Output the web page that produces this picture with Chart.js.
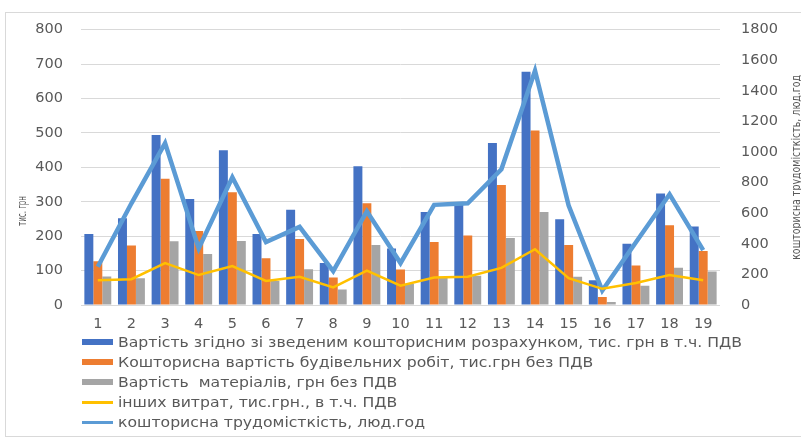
<!DOCTYPE html>
<html>
<head>
<meta charset="utf-8">
<script src="https://cdn.jsdelivr.net/npm/chart.js@4/dist/chart.umd.min.js"></script>
<style>
  html, body { margin: 0; padding: 0; background: #fff; }
  #wrap { position: relative; width: 801px; height: 439px; overflow: hidden; }
  #frame { position: absolute; left: 5px; top: 12px; width: 800px; height: 425px;
           border: 1px solid #d9d9d9; box-sizing: border-box; }
  canvas { position: absolute; left: 0; top: 0; }
  #legend { position: absolute; left: 82px; top: 332px; font: 14px "DejaVu Sans", sans-serif; color: #595959; }
  .row { height: 20px; display: flex; align-items: center; white-space: pre; }
  .mk { width: 31px; margin-right: 5px; flex: none; }
  .txt { display: inline-block; transform: scaleX(1.12); transform-origin: 0 50%; }
</style>
</head>
<body>
<div id="wrap">
  <div id="frame"></div>
  <canvas id="c" width="801" height="439"></canvas>
  <div id="legend"></div>
</div>
<script>
// Object numbers along the x axis
const categories = ['1','2','3','4','5','6','7','8','9','10','11','12','13','14','15','16','17','18','19'];

// Left axis series, thousand UAH
const costTotal     = [206, 252, 494, 308, 450, 206, 277, 122, 403, 164, 270, 296, 471, 678, 249, 72, 178, 324, 228];
const costWorks     = [127, 173, 367, 215, 328, 136, 192, 80, 296, 103, 183, 202, 349, 507, 174, 23, 115, 232, 157];
const costMaterials = [83, 78, 185, 148, 186, 70, 104, 45, 174, 62, 80, 85, 195, 270, 82, 9, 56, 108, 97];
const otherCosts    = [72, 75, 122, 87, 113, 70, 82, 51, 100, 56, 80, 82, 108, 162, 78, 47, 64, 87, 72];

// Right axis series, man-hours
const laborHours    = [250, 665, 1058, 370, 835, 412, 511, 222, 613, 274, 655, 665, 887, 1532, 650, 95, 410, 724, 359];

const seriesNames = [
  'Вартість згідно зі зведеним кошторисним розрахунком, тис. грн в т.ч. ПДВ',
  'Кошторисна вартість будівельних робіт, тис.грн без ПДВ',
  'Вартість  матеріалів, грн без ПДВ',
  'інших витрат, тис.грн., в т.ч. ПДВ',
  'кошторисна трудомісткість, люд.год'
];
const leftAxisTitle = 'тис. грн';
const rightAxisTitle = 'кошторисна трудомісткість, люд.год';

const TEXT = '#595959';
const tickFont = { family: 'DejaVu Sans', size: 14.5 };

// Rotated axis titles, squeezed to the length they occupy beside the axes
function drawVerticalText(ctx, text, x, y, length, font) {
  ctx.save();
  ctx.translate(x, y);
  ctx.rotate(-Math.PI / 2);
  ctx.font = font;
  const w = ctx.measureText(text).width;
  ctx.scale(length / w, 1);
  ctx.textAlign = 'center';
  ctx.textBaseline = 'middle';
  ctx.fillStyle = TEXT;
  ctx.fillText(text, 0, 0);
  ctx.restore();
}
const axisTitles = {
  id: 'axisTitles',
  afterDraw(chart) {
    const ctx = chart.ctx;
    const area = chart.chartArea;
    drawVerticalText(ctx, leftAxisTitle, 23, 211, 30, '12px "DejaVu Sans"');
    drawVerticalText(ctx, rightAxisTitle, 797, (area.top + area.bottom) / 2, 185, '12px "DejaVu Sans"');
  }
};

const plainNumber = v => String(v);

const chart = new Chart(document.getElementById('c'), {
  data: {
    labels: categories,
    datasets: [
      { type: 'bar', label: seriesNames[0], data: costTotal, backgroundColor: '#4472C4', yAxisID: 'y', order: 2 },
      { type: 'bar', label: seriesNames[1], data: costWorks, backgroundColor: '#ED7D31', yAxisID: 'y', order: 2 },
      { type: 'bar', label: seriesNames[2], data: costMaterials, backgroundColor: '#A5A5A5', yAxisID: 'y', order: 2 },
      { type: 'line', label: seriesNames[3], data: otherCosts, borderColor: '#FFC000', backgroundColor: '#FFC000',
        borderWidth: 2.5, pointRadius: 0, tension: 0, yAxisID: 'y', order: 0 },
      { type: 'line', label: seriesNames[4], data: laborHours, borderColor: '#5B9BD5', backgroundColor: '#5B9BD5',
        borderWidth: 4.5, pointRadius: 0, tension: 0, yAxisID: 'y1', order: 1 }
    ]
  },
  options: {
    responsive: false,
    animation: false,
    devicePixelRatio: 1,
    layout: { padding: { top: 21, bottom: 104, left: 0, right: 0 } },
    datasets: { bar: { categoryPercentage: 0.8, barPercentage: 1.0 } },
    plugins: { legend: { display: false }, tooltip: { enabled: false } },
    scales: {
      x: {
        offset: true,
        grid: { display: false, drawTicks: false },
        border: { display: false },
        ticks: { color: TEXT, font: tickFont, padding: 11, maxRotation: 0, autoSkip: false },
        afterFit(s) { s.height = 30; }
      },
      y: {
        position: 'left', min: 0, max: 800,
        ticks: { stepSize: 100, color: TEXT, font: tickFont, padding: 18, callback: plainNumber },
        grid: { color: '#d9d9d9', lineWidth: 1, drawTicks: false },
        border: { display: false },
        afterFit(s) { s.width = 81; }
      },
      y1: {
        position: 'right', min: 0, max: 1800,
        ticks: { stepSize: 200, color: TEXT, font: tickFont, padding: 21, callback: plainNumber },
        grid: { display: false, drawTicks: false },
        border: { display: false },
        afterFit(s) { s.width = 81; }
      }
    }
  },
  plugins: [axisTitles]
});

// Legend: one entry per row, built from the chart's datasets
const legend = document.getElementById('legend');
chart.data.datasets.forEach(ds => {
  const row = document.createElement('div');
  row.className = 'row';
  const mk = document.createElement('span');
  mk.className = 'mk';
  const isLine = ds.type === 'line';
  mk.style.height = isLine ? '3px' : '6px';
  mk.style.background = isLine ? ds.borderColor : ds.backgroundColor;
  const txt = document.createElement('span');
  txt.className = 'txt';
  txt.textContent = ds.label;
  row.appendChild(mk);
  row.appendChild(txt);
  legend.appendChild(row);
});
</script>
</body>
</html>
